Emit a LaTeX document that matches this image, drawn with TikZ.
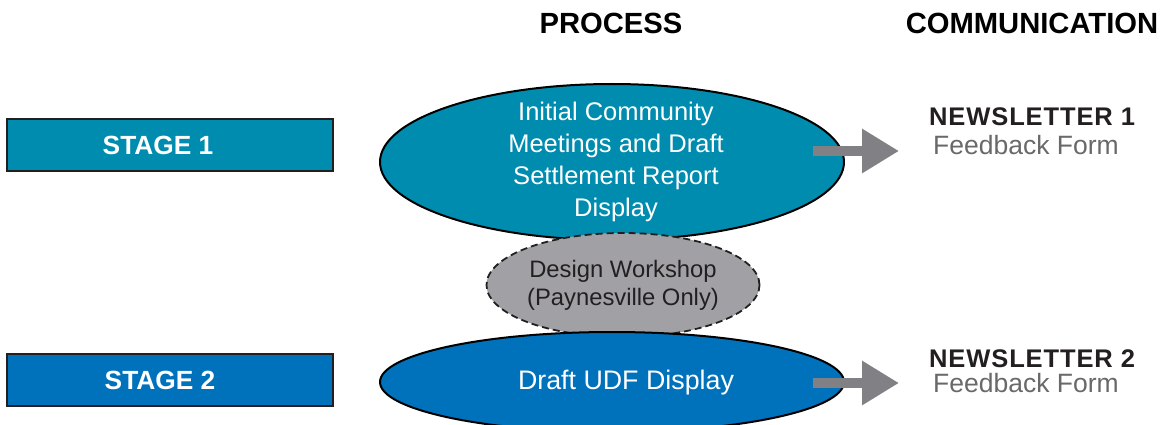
\documentclass[tikz,border=0pt]{standalone}
\usepackage{fontspec}
\setmainfont{Liberation Sans}
\usetikzlibrary{shapes.geometric,arrows.meta}
\definecolor{tealA}{RGB}{0,140,174}
\definecolor{blueB}{RGB}{0,114,188}
\definecolor{wsgray}{RGB}{161,161,165}
\definecolor{arrgray}{RGB}{128,128,133}
\definecolor{fbgray}{RGB}{105,105,105}
\definecolor{ink}{RGB}{35,31,32}
\begin{document}
\begin{tikzpicture}[x=1pt,y=-1pt,
  stagebox/.style={draw=ink, line width=2.5pt, minimum width=326pt, minimum height=52pt, inner sep=0pt},
  stagetext/.style={text=white, font=\fontsize{26.3}{30}\selectfont\bfseries, inner sep=0pt},
  procell/.style={ellipse, draw=black, line width=2pt, inner sep=0pt, text=white, align=center, font=\fontsize{25.5}{32}\selectfont},
  wsell/.style={ellipse, draw=ink, line width=1.8pt, dash pattern=on 7pt off 4pt, fill=wsgray, inner sep=0pt, text=ink, align=center, font=\fontsize{23.8}{28}\selectfont},
  head/.style={anchor=base, text=black, font=\fontsize{29.2}{32}\selectfont\bfseries, inner sep=0pt},
  newsl/.style={anchor=base west, text=ink, font=\fontsize{25.5}{28}\selectfont\bfseries\addfontfeature{LetterSpace=3.5}, inner sep=0pt},
  fbform/.style={anchor=base west, text=fbgray, font=\fontsize{26.5}{30}\selectfont, inner sep=0pt},
  blockarrow/.style={draw=arrgray, line width=10.5pt, -{Triangle[length=37pt 0 0,width=42pt 0 0]}}
]
\useasboundingbox (0,0) rectangle (1162,425);
\fill[white] (0,0) rectangle (1162,425);

\node[head] (hp) at (611,34) {PROCESS};
\node[head] (hc) at (1032,34) {COMMUNICATION};

\node[stagebox, fill=tealA, label={[stagetext, xshift=-12pt]center:STAGE 1}] (s1) at (170,145) {};
\node[stagebox, fill=blueB, label={[stagetext, xshift=-10pt]center:STAGE 2}] (s2) at (170,380) {};

\node[procell, fill=tealA, minimum width=464pt, minimum height=156pt] (p1) at (612,162) {};
\node[text=white, align=center, font=\fontsize{25.5}{32}\selectfont, inner sep=0pt] (p1t) at (616,162)
  {Initial Community\\Meetings and Draft\\Settlement Report\\Display};
\node[wsell, minimum width=273pt, minimum height=104pt] (ws) at (623,285)
  {Design Workshop\\(Paynesville Only)};
\node[procell, fill=blueB, minimum width=464pt, minimum height=100pt] (p2) at (612,382) {};
\node[text=white, font=\fontsize{26.8}{30}\selectfont, inner sep=0pt] (p2t) at (626,383) {Draft UDF Display};

\coordinate (a1s) at (813,151);
\coordinate (a1e) at (899,151);
\coordinate (a2s) at (813,383);
\coordinate (a2e) at (899,383);
\draw[blockarrow] (a1s) -- (a1e);
\draw[blockarrow] (a2s) -- (a2e);

\node[newsl] (n1) at (929,126) {NEWSLETTER 1};
\node[fbform] (f1) at (933,155) {Feedback Form};
\node[newsl] (n2) at (929,367) {NEWSLETTER 2};
\node[fbform] (f2) at (933,392) {Feedback Form};
\end{tikzpicture}
\end{document}
